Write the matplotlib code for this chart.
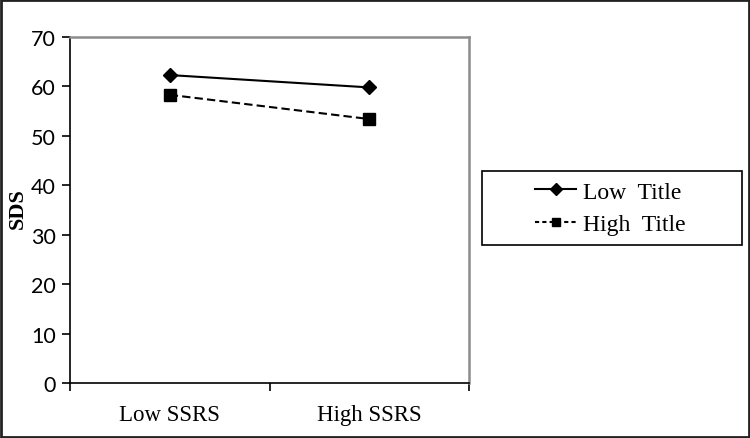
import matplotlib.pyplot as plt
from matplotlib.patches import Rectangle
from matplotlib.lines import Line2D

categories = ["Low SSRS", "High SSRS"]
low_title = [62.3, 59.8]
high_title = [58.3, 53.4]
series_names = ["Low  Title", "High  Title"]
yticks = [0, 10, 20, 30, 40, 50, 60, 70]

fig = plt.figure(figsize=(7.5, 4.39), dpi=100)
ax = fig.add_axes([70 / 750, 55 / 439, 399 / 750, 346 / 439])

xpos = [0.5, 1.5]
ax.plot(xpos, low_title, color="black", lw=1.5, marker="D", ms=7,
        label=series_names[0])
ax.plot(xpos, high_title, color="black", lw=1.5, ls=(0, (4, 2)), marker="s",
        ms=8, label=series_names[1])

ax.set_xlim(0, 2)
ax.set_ylim(0, 70)
ax.set_yticks(yticks)
ax.set_yticklabels([str(v) for v in yticks], family="Lato", fontsize=15.5)
ax.set_xticks([0, 1, 2])
ax.set_xticklabels([])
ax.set_xticks(xpos, minor=True)
ax.set_xticklabels(categories, minor=True, family="Liberation Serif",
                   fontsize=16.5)
ax.tick_params(axis="x", which="major", direction="out", length=6, width=1.2)
ax.tick_params(axis="x", which="minor", length=0, pad=15)
ax.tick_params(axis="y", direction="out", length=6, width=1.2, pad=4)

for s in ["left", "bottom"]:
    ax.spines[s].set_color("black")
    ax.spines[s].set_linewidth(1.2)
for s in ["top", "right"]:
    ax.spines[s].set_color("#8c8c8c")
    ax.spines[s].set_linewidth(1.8)

fig.text(18 / 750, 1 - 209 / 439, "SDS", rotation=90, ha="center",
         va="center", family="Liberation Serif", fontweight="bold",
         fontsize=16)

# legend box
lx0, ly0, lw, lh = 482 / 750, 1 - 246 / 439, 260 / 750, 74 / 439
fig.patches.append(Rectangle((lx0, ly0), lw, lh, transform=fig.transFigure,
                             fill=False, ec="black", lw=1.2))
handles = [
    Line2D([], [], color="black", lw=1.5, marker="D", ms=6),
    Line2D([], [], color="black", lw=1.5, ls=(0, (2, 1.5)), marker="s", ms=6),
]
fig.legend(handles, series_names, loc="center",
           bbox_to_anchor=(lx0 - 0.002, ly0, lw, lh), frameon=False,
           prop={"family": "Liberation Serif", "size": 17},
           handlelength=1.75, handletextpad=0.3, labelspacing=0.45)

# outer frame
fig.patches.append(Rectangle((0.0015, 0.0025), 0.997, 0.995,
                             transform=fig.transFigure, fill=False,
                             ec="#222222", lw=2))

plt.savefig("out.png", dpi=100)
plt.close()
